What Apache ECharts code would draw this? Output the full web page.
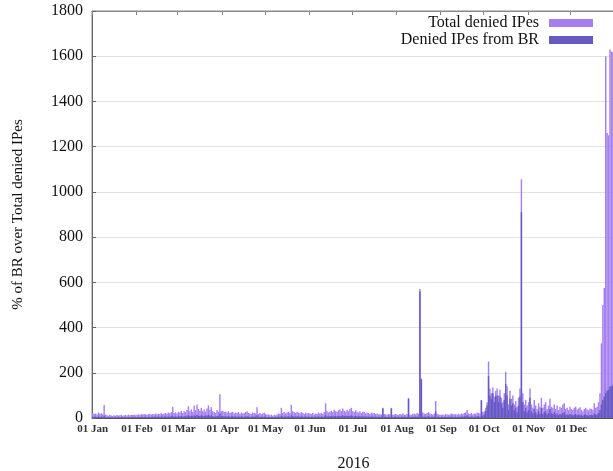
<!DOCTYPE html>
<html><head><meta charset="utf-8">
<script src="https://cdn.jsdelivr.net/npm/echarts@6/dist/echarts.min.js"></script>
<style>html,body{margin:0;padding:0;background:#fff}#c{width:613px;height:471px}</style>
</head><body><div id="c"></div>
<script>
const monthNames = ['Jan','Feb','Mar','Apr','May','Jun','Jul','Aug','Sep','Oct','Nov','Dec'];
const monthDays = [31,29,31,30,31,30,31,31,30,31,30,31];
const yTicks = [0,200,400,600,800,1000,1200,1400,1600,1800];

// Total denied IPes, per day of 2016, grouped by month
const totalJan = [22,18,20,16,24,19,21,17,57,15,12,10,14,11,9,12,10,13,11,12,14,10,12,13,11,15,12,14,13,16,12];
const totalFeb = [14,16,13,17,15,18,16,14,17,19,15,18,16,20,17,19,18,21,17,20,22,19,24,21,26,50,22,25,20];
const totalMar = [28,24,32,22,30,26,35,52,30,38,28,55,34,60,40,32,45,30,38,28,42,56,36,48,30,26,22,35,28,105,30];
const totalApr = [32,26,28,24,30,22,25,28,20,24,22,26,18,24,20,22,26,30,22,20,18,24,22,20,48,18,22,16,20,24];
const totalMay = [18,14,16,12,15,10,14,12,16,20,18,45,22,26,20,24,28,22,58,30,26,22,28,24,20,26,22,18,24,20,22];
const totalJun = [20,18,22,16,20,18,24,20,22,18,26,65,30,24,28,32,26,36,30,28,34,38,30,42,32,28,36,30,40,45];
const totalJul = [30,26,34,28,24,30,22,28,26,20,24,22,18,24,20,22,18,20,16,18,15,45,18,16,14,18,16,45,14,16,18];
const totalAug = [16,14,18,15,20,16,14,18,88,16,14,18,20,16,22,18,571,175,24,20,18,22,26,20,18,16,20,75,18,16,14];
const totalSep = [14,16,12,18,15,14,16,20,18,15,17,14,18,16,20,18,22,24,35,20,18,22,16,20,18,24,22,20,80,26];
const totalOct = [30,45,70,250,130,110,135,95,120,130,100,125,90,70,110,205,140,60,120,85,100,60,75,50,90,130,1055,110,60,80,55];
const totalNov = [70,130,60,45,80,55,40,65,50,90,45,60,70,40,55,85,50,45,60,40,55,35,50,45,60,65,40,45,35,50];
const totalDec = [40,35,45,50,38,42,48,36,30,40,45,38,34,42,40,36,65,45,50,70,110,330,500,575,1600,1260,1250,1630,1620,1620,1620];

// Denied IPes from BR
const brJan = [6,5,6,4,7,5,6,4,10,4,3,3,4,3,2,3,3,4,3,3,4,3,3,4,3,4,3,4,4,5,3];
const brFeb = [4,5,4,5,4,5,5,4,5,6,4,5,5,6,5,6,5,6,5,6,7,6,7,6,8,10,6,7,6];
const brMar = [8,7,9,6,8,7,10,12,8,10,8,12,9,14,10,9,12,8,10,8,11,14,10,12,8,7,6,9,8,20,8];
const brApr = [9,7,8,7,8,6,7,8,6,7,6,7,5,7,6,6,7,8,6,6,5,7,6,6,12,5,6,5,6,7];
const brMay = [5,4,5,4,4,3,4,4,5,6,5,10,6,7,6,7,8,6,12,8,7,6,8,7,6,7,6,5,7,6,6];
const brJun = [6,5,6,5,6,5,7,6,6,5,7,14,8,7,8,9,7,10,8,8,9,10,8,11,9,8,10,8,10,12];
const brJul = [8,7,9,8,7,8,6,8,7,6,7,6,5,7,6,6,5,6,5,5,5,42,5,5,4,5,5,42,4,5,5];
const brAug = [5,4,5,4,6,5,4,5,85,5,4,5,6,5,7,5,560,170,7,6,5,7,8,6,5,5,6,30,5,5,4];
const brSep = [4,5,4,5,4,4,5,6,5,4,5,4,5,5,6,5,7,8,12,6,5,7,5,6,5,8,7,6,78,10];
const brOct = [15,30,55,185,100,85,110,70,95,100,70,95,65,45,80,150,100,35,85,55,65,35,45,25,55,95,910,70,30,45,25];
const brNov = [35,90,30,20,40,25,15,30,20,45,18,25,30,15,22,40,20,18,25,15,20,12,18,15,22,25,14,15,12,18];
const brDec = [14,12,15,18,12,14,16,12,10,14,15,12,11,14,13,12,20,15,16,22,35,60,80,95,110,120,125,140,140,145,145];

const totalData = [].concat(totalJan,totalFeb,totalMar,totalApr,totalMay,totalJun,totalJul,totalAug,totalSep,totalOct,totalNov,totalDec);
const brData = [].concat(brJan,brFeb,brMar,brApr,brMay,brJun,brJul,brAug,brSep,brOct,brNov,brDec);

const categories = [];
monthNames.forEach((m, i) => {
  for (let d = 1; d <= monthDays[i]; d++) categories.push((d < 10 ? '0' + d : '' + d) + ' ' + m);
});

const serif = 'Liberation Serif';
const chart = echarts.init(document.getElementById('c'), null, {renderer: 'canvas'});
chart.setOption({
  animation: false,
  backgroundColor: '#fff',
  textStyle: {fontFamily: serif},
  grid: {left: 92, right: -2, top: 11, bottom: 53, show: true, borderColor: '#888', borderWidth: 1,
    containLabel: false, outerBoundsMode: 'none'},
  legend: {
    orient: 'vertical', right: 15, top: 10, align: 'right',
    itemWidth: 44, itemHeight: 8, itemGap: 1,
    textStyle: {fontFamily: serif, fontSize: 16, color: '#111', lineHeight: 16, padding: [0, 5, 0, 0]},
    data: [
      {name: 'Total denied IPes', icon: 'rect'},
      {name: 'Denied IPes from BR', icon: 'rect'}
    ]
  },
  xAxis: [{
    type: 'category', data: categories, boundaryGap: true,
    name: '2016', nameLocation: 'middle', nameGap: 38,
    nameTextStyle: {fontFamily: serif, fontSize: 16, color: '#111'},
    axisLine: {lineStyle: {color: '#555'}},
    axisTick: {show: false},
    axisLabel: {
      interval: (idx, val) => val.indexOf('01 ') === 0,
      fontFamily: serif, fontSize: 11, fontWeight: 'bold', color: '#333', margin: 6
    },
    splitLine: {show: false}
  }, {
    type: 'category', data: categories, position: 'top', boundaryGap: true,
    axisLine: {show: true, lineStyle: {color: '#888'}},
    axisTick: {show: true, inside: true, length: 4, interval: (idx, val) => val.indexOf('01 ') === 0, lineStyle: {color: '#888'}},
    axisLabel: {show: false}, splitLine: {show: false}
  }],
  yAxis: {
    type: 'value', min: 0, max: 1800, interval: 200,
    name: '% of BR over Total denied IPes', nameLocation: 'middle', nameGap: 66,
    nameTextStyle: {fontFamily: serif, fontSize: 15, color: '#111'},
    axisLine: {show: true, lineStyle: {color: '#666'}},
    axisTick: {show: true, inside: true, length: 4, lineStyle: {color: '#666'}},
    axisLabel: {fontFamily: serif, fontSize: 16, color: '#111', margin: 9,
      formatter: v => yTicks.indexOf(v) >= 0 ? String(v) : ''},
    splitLine: {show: true, lineStyle: {color: '#e2e2e2'}}
  },
  series: [{
    name: 'Total denied IPes', type: 'bar', data: totalData,
    barGap: '-100%', barCategoryGap: '0%',
    itemStyle: {color: '#a57ff0'}
  }, {
    name: 'Denied IPes from BR', type: 'bar', data: brData,
    barGap: '-100%', barCategoryGap: '0%',
    itemStyle: {color: '#6659c2'}
  }]
});
</script></body></html>
